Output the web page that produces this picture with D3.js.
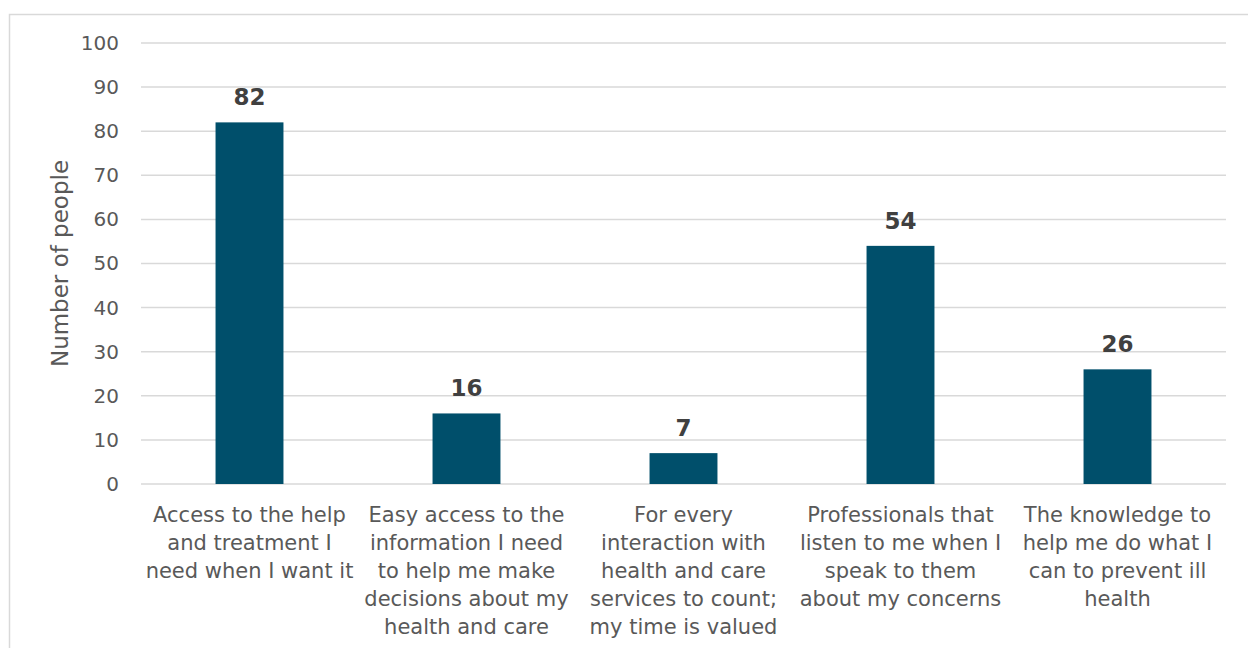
<!DOCTYPE html>
<html>
<head>
<meta charset="utf-8">
<script src="https://cdn.jsdelivr.net/npm/d3@7"></script>
<style>
    body { margin: 0; background: #fff; }
    text { font-family: "DejaVu Sans", Verdana, sans-serif; }
</style>
</head>
<body>
<div id="vis"></div>
<script>
    var categories = [
        ["Access to the help", "and treatment I", "need when I want it"],
        ["Easy access to the", "information I need", "to help me make", "decisions about my", "health and care"],
        ["For every", "interaction with", "health and care", "services to count;", "my time is valued"],
        ["Professionals that", "listen to me when I", "speak to them", "about my concerns"],
        ["The knowledge to", "help me do what I", "can to prevent ill", "health"]
    ];
    var values = [82, 16, 7, 54, 26];
    var yTicks = [0, 10, 20, 30, 40, 50, 60, 70, 80, 90, 100];

    var width = 1248,
        height = 648;
    var margin = { top: 43, right: 22, bottom: 164, left: 141 };

    var svg = d3.select("#vis").append("svg")
        .attr("width", width)
        .attr("height", height);

    // chart frame (runs off the right and bottom edges)
    svg.append("rect")
        .attr("x", 9.5)
        .attr("y", 14.5)
        .attr("width", 1260)
        .attr("height", 660)
        .attr("fill", "none")
        .attr("stroke", "#d9d9d9")
        .attr("stroke-width", 1.5);

    var x = d3.scaleBand()
        .domain(d3.range(categories.length))
        .range([margin.left, width - margin.right])
        .paddingInner(0.687)
        .paddingOuter(0.3435);

    var y = d3.scaleLinear()
        .domain([0, 100])
        .range([height - margin.bottom, margin.top]);

    var grid = svg.append("g");
    grid.selectAll("line")
        .data(yTicks)
        .enter().append("line")
        .attr("x1", margin.left)
        .attr("x2", width - margin.right)
        .attr("y1", function(d) { return y(d); })
        .attr("y2", function(d) { return y(d); })
        .attr("stroke", "#d9d9d9")
        .attr("stroke-width", 1.5);

    var yAxis = svg.append("g")
        .attr("transform", "translate(" + (margin.left - 22) + ",0)")
        .call(d3.axisLeft(y).tickValues(yTicks).tickSize(0).tickPadding(0));
    yAxis.select(".domain").remove();
    yAxis.selectAll("text")
        .attr("fill", "#595959")
        .style("font-size", "20px");

    svg.append("text")
        .attr("transform", "translate(68," + y(50) + ") rotate(-90)")
        .attr("text-anchor", "middle")
        .attr("fill", "#595959")
        .style("font-size", "23px")
        .text("Number of people");

    svg.append("g").selectAll("rect")
        .data(values)
        .enter().append("rect")
        .attr("x", function(d, i) { return x(i); })
        .attr("y", function(d) { return y(d); })
        .attr("width", x.bandwidth())
        .attr("height", function(d) { return y(0) - y(d); })
        .attr("fill", "#004f6b");

    svg.append("g").selectAll("text")
        .data(values)
        .enter().append("text")
        .attr("x", function(d, i) { return x(i) + x.bandwidth() / 2; })
        .attr("y", function(d) { return y(d) - 17; })
        .attr("text-anchor", "middle")
        .attr("fill", "#404040")
        .style("font-size", "23px")
        .style("font-weight", "bold")
        .text(function(d) { return d; });

    var labels = svg.append("g").selectAll("text")
        .data(categories)
        .enter().append("text")
        .attr("text-anchor", "middle")
        .attr("fill", "#595959")
        .style("font-size", "21px")
        .attr("transform", function(d, i) {
            return "translate(" + (x(i) + x.bandwidth() / 2) + "," + (y(0) + 38) + ")";
        });

    labels.selectAll("tspan")
        .data(function(d) { return d; })
        .enter().append("tspan")
        .attr("x", 0)
        .attr("y", function(d, i) { return i * 28; })
        .text(function(d) { return d; });
</script>
</body>
</html>
